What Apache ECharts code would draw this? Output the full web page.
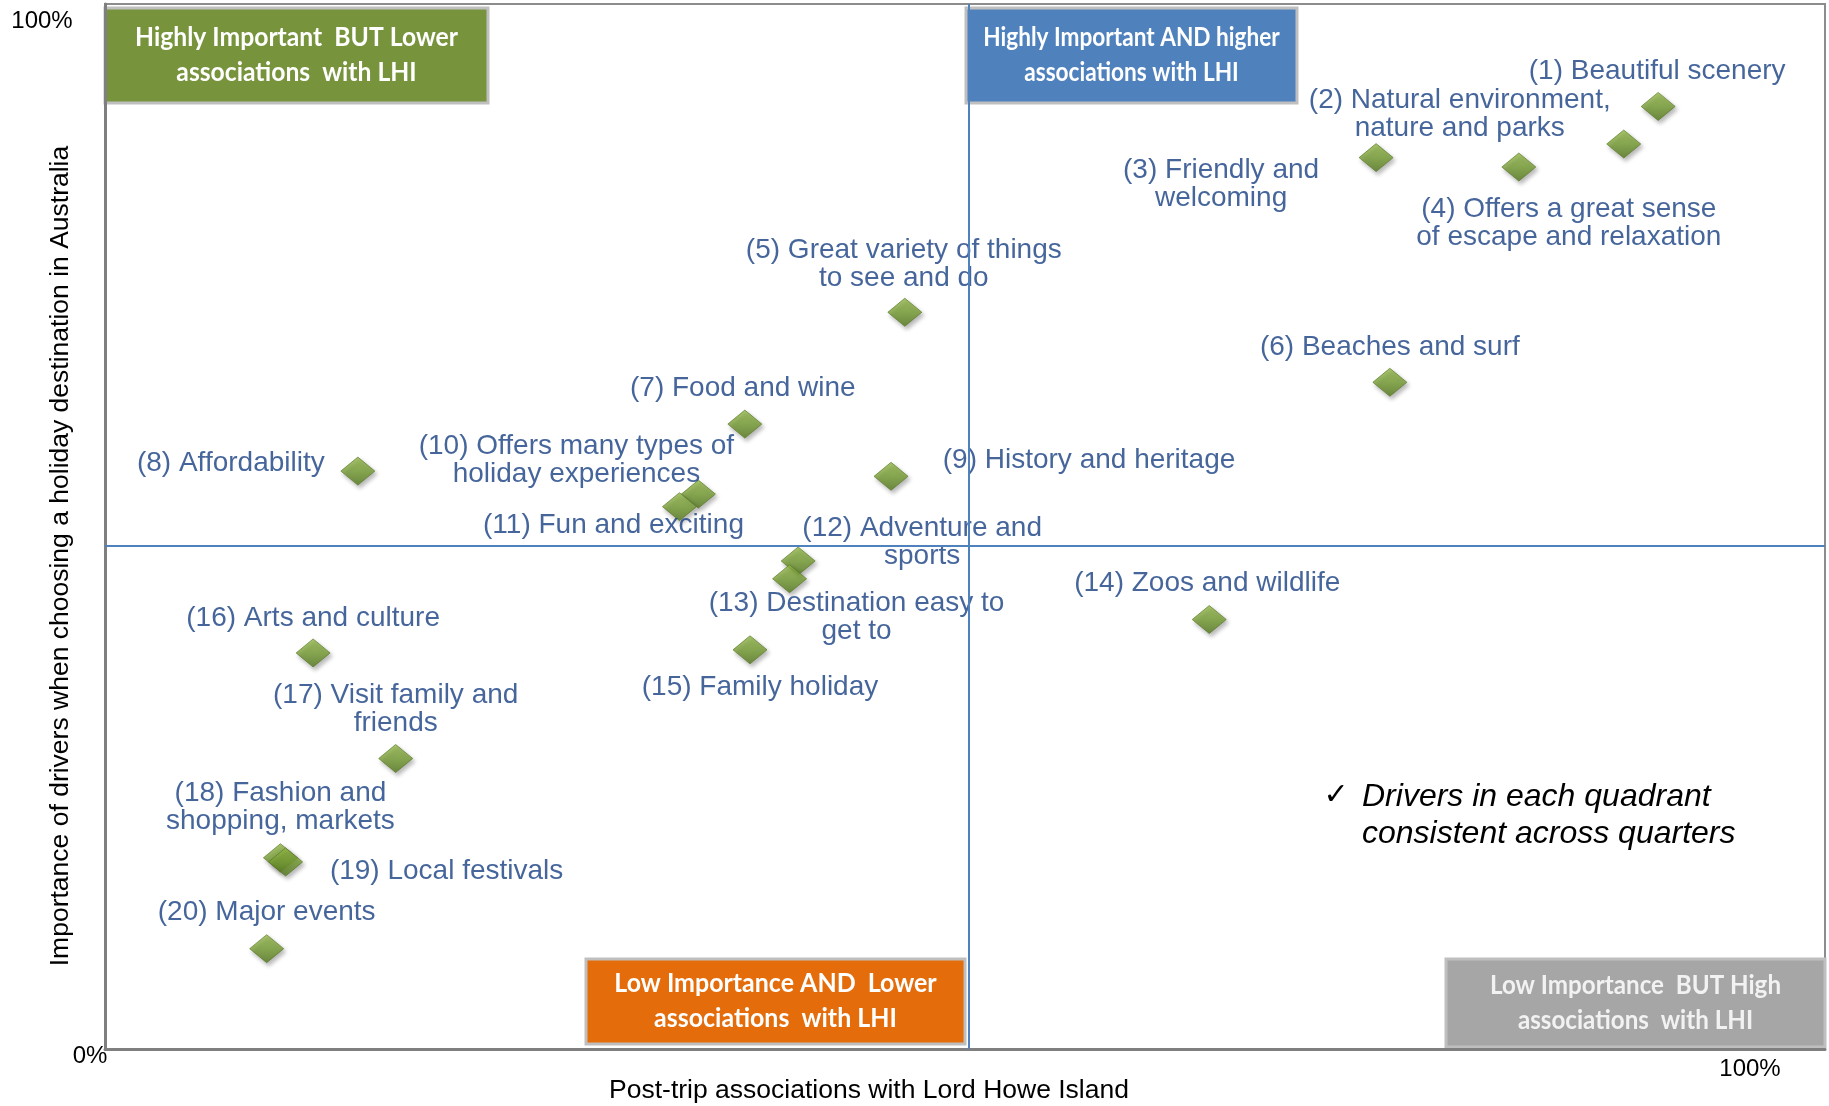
<!DOCTYPE html>
<html>
<head>
<meta charset="utf-8">
<title>Drivers vs post-trip associations with LHI</title>
<script src="https://cdn.jsdelivr.net/npm/echarts@6/dist/echarts.min.js"></script>
<style>
  html, body { margin: 0; padding: 0; background: #fff; }
  #main { width: 1829px; height: 1106px; }
</style>
</head>
<body>
<div id="main"></div>
<script>
// drivers (labels as shown on the chart)
var drivers = [
  '(1) Beautiful scenery',
  '(2) Natural environment,\nnature and parks',
  '(3) Friendly and\nwelcoming',
  '(4) Offers a great sense\nof escape and relaxation',
  '(5) Great variety of things\nto see and do',
  '(6) Beaches and surf',
  '(7) Food and wine',
  '(8) Affordability',
  '(9) History and heritage',
  '(10) Offers many types of\nholiday experiences',
  '(11) Fun and exciting',
  '(12) Adventure and\nsports',
  '(13) Destination easy to\nget to',
  '(14) Zoos and wildlife',
  '(15) Family holiday',
  '(16) Arts and culture',
  '(17) Visit family and\nfriends',
  '(18) Fashion and\nshopping, markets',
  '(19) Local festivals',
  '(20) Major events'
];
// x: post-trip associations with LHI (%)
var postTrip = [90.3, 88.3, 73.9, 82.2, 46.5, 74.7, 37.2, 14.7, 45.7, 34.5,
                33.4, 40.3, 39.8, 64.2, 37.5, 12.1, 16.9, 10.2, 10.5, 9.4];
// y: importance when choosing a destination (%)
var importance = [90.2, 86.6, 85.3, 84.4, 70.5, 63.8, 59.8, 55.3, 54.8, 53.1,
                  51.9, 46.7, 45.0, 41.1, 38.2, 37.9, 27.8, 18.3, 17.9, 9.6];
// quadrant split lines
var splitX = 50.2;
var splitY = 48.2;

// where each label sits relative to its diamond (px)
var labelOffsets = [
  [-1, -35], [-164, -30], [-155, 27], [50, 56], [-1, -48],
  [0, -35], [-2, -36], [-127, -8], [198, -16], [-122, -34],
  [-66, 19], [124, -19], [67, 39], [-2, -36], [10, 37],
  [0, -35], [0, -49], [0, -50], [161, 9], [0, -36]
];

var chart = echarts.init(document.getElementById('main'));

var points = drivers.map(function (name, i) {
  return {
    name: name,
    value: [postTrip[i], importance[i]],
    label: { offset: labelOffsets[i] }
  };
});

var sans = '"Liberation Sans", Arial, sans-serif';

// coloured quadrant caption boxes
function quadBox(x, y, w, h, fill, text, textColor, sx) {
  return {
    type: 'group',
    z: 20,
    children: [
      {
        type: 'rect',
        shape: { x: x, y: y, width: w, height: h },
        style: { fill: fill, stroke: '#bfbfbf', lineWidth: 3 }
      },
      {
        type: 'text',
        x: x + w / 2,
        y: y + h / 2,
        scaleX: sx,
        style: {
          text: text,
          font: 'bold 26px Lato, "Open Sans", sans-serif',
          fill: textColor,
          align: 'center',
          verticalAlign: 'middle',
          lineHeight: 35
        }
      }
    ]
  };
}

function plainText(x, y, text, size) {
  return {
    type: 'text', x: x, y: y, z: 20,
    style: { text: text, font: size + 'px ' + sans, fill: '#000', align: 'center', verticalAlign: 'middle' }
  };
}

var option = {
  backgroundColor: '#ffffff',
  animation: false,
  grid: {
    left: 105, top: 4, width: 1720, height: 1045,
    outerBoundsMode: 'none',
    show: true, borderColor: '#8c8c8c', borderWidth: 2
  },
  xAxis: {
    type: 'value', min: 0, max: 100,
    axisLine: { show: true, lineStyle: { color: '#7f7f7f', width: 3 } },
    axisTick: { show: false },
    axisLabel: { show: false },
    splitLine: { show: false }
  },
  yAxis: {
    type: 'value', min: 0, max: 100,
    axisLine: { show: true, lineStyle: { color: '#7f7f7f', width: 3 } },
    axisTick: { show: false },
    axisLabel: { show: false },
    splitLine: { show: false }
  },
  series: [{
    type: 'scatter',
    symbol: 'diamond',
    symbolSize: [34, 28],
    data: points,
    itemStyle: {
      color: new echarts.graphic.LinearGradient(0, 0, 0, 1, [
        { offset: 0, color: '#94b948' },
        { offset: 0.5, color: '#79a035' },
        { offset: 1, color: '#557a1e' }
      ]),
      borderColor: '#557520',
      borderWidth: 0.8,
      shadowBlur: 4,
      shadowOffsetX: 2,
      shadowOffsetY: 3,
      shadowColor: 'rgba(0,0,0,0.35)'
    },
    label: {
      show: true,
      position: 'inside',
      formatter: '{b}',
      align: 'center',
      verticalAlign: 'middle',
      fontFamily: sans,
      fontSize: 28,
      lineHeight: 28,
      color: '#163f82'
    },
    markLine: {
      silent: true,
      symbol: ['none', 'none'],
      label: { show: false },
      lineStyle: { color: '#4f81bd', width: 2, type: 'solid' },
      data: [{ xAxis: splitX }, { yAxis: splitY }]
    }
  }],
  graphic: [
    quadBox(105, 8, 383, 95, '#77933c', 'Highly Important  BUT Lower\nassociations  with LHI', '#ffffff', 0.95),
    quadBox(966, 8, 331, 95, '#4f81bd', 'Highly Important AND higher\nassociations with LHI', '#ffffff', 0.87),
    quadBox(586, 959, 379, 85, '#e46c0a', 'Low Importance AND  Lower\nassociations  with LHI', '#ffffff', 0.96),
    quadBox(1446, 959, 379, 88, '#a6a6a6', 'Low Importance  BUT High\nassociations  with LHI', '#f2f2f2', 0.93),
    plainText(42, 21, '100%', 24),
    plainText(90, 1056, '0%', 24),
    plainText(1750, 1069, '100%', 24),
    // axis titles
    plainText(869, 1091, 'Post-trip associations with Lord Howe Island', 26.5),
    {
      type: 'text', x: 61, y: 556, z: 20, rotation: Math.PI / 2,
      style: {
        text: 'Importance of drivers when choosing a holiday destination in Australia',
        font: '26.5px ' + sans, fill: '#000', align: 'center', verticalAlign: 'middle'
      }
    },
    // note
    {
      type: 'text', x: 1336, y: 796, z: 20,
      style: { text: '\u2713', font: '30px "DejaVu Sans", sans-serif', fill: '#000', align: 'center', verticalAlign: 'middle' }
    },
    {
      type: 'text', x: 1362, y: 816, z: 20,
      style: {
        text: 'Drivers in each quadrant\nconsistent across quarters',
        font: 'italic 32px ' + sans,
        fill: '#000', align: 'left', verticalAlign: 'middle', lineHeight: 37
      }
    }
  ]
};

chart.setOption(option);
</script>
</body>
</html>
